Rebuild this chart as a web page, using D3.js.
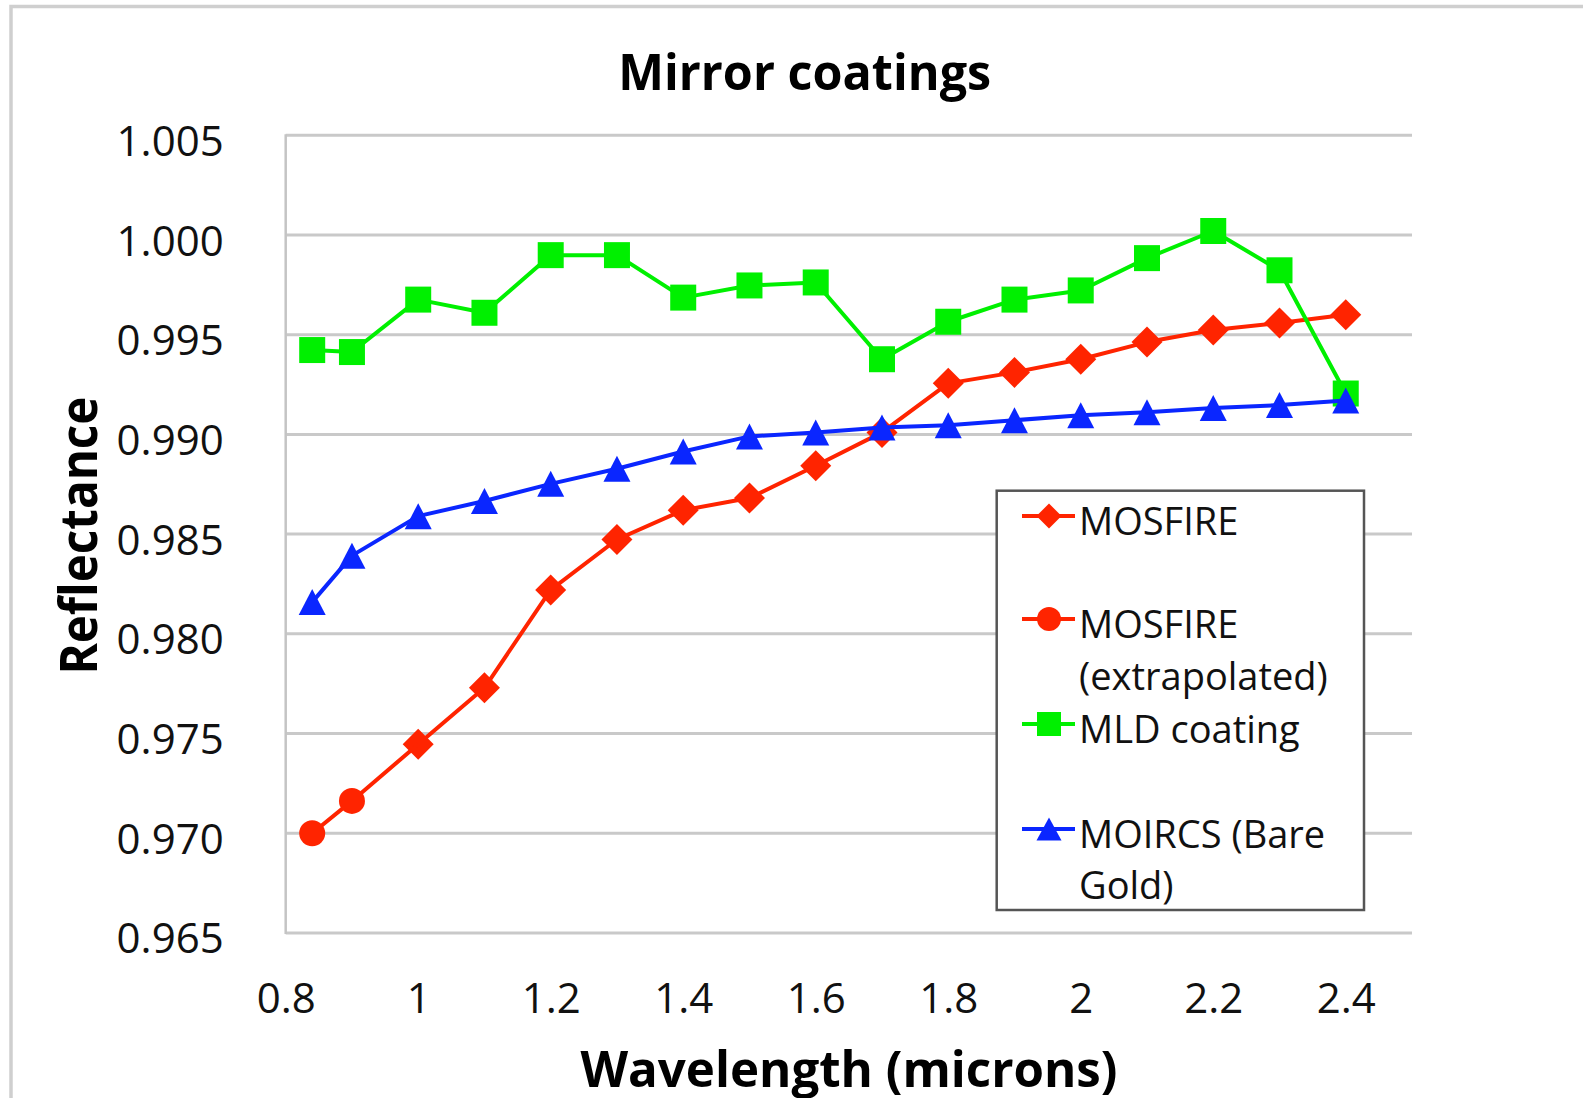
<!DOCTYPE html>
<html><head><meta charset="utf-8">
<script src="https://cdn.jsdelivr.net/npm/d3@7"></script>
<style>body{margin:0;background:#fff;overflow:hidden}svg{display:block}</style>
</head><body>
<svg id="c" width="1583" height="1098"></svg>
<script>
// ---- data ----
const wavelengths = [0.84,0.9,1.0,1.1,1.2,1.3,1.4,1.5,1.6,1.7,1.8,1.9,2.0,2.1,2.2,2.3,2.4];
const mosfireX = [1.0,1.1,1.2,1.3,1.4,1.5,1.6,1.7,1.8,1.9,2.0,2.1,2.2,2.3,2.4];
const mosfire = [0.97446,0.97729,0.98220,0.98473,0.98620,0.98681,0.98843,0.99010,0.99256,0.99311,0.99377,0.99463,0.99524,0.99559,0.99600];
const extrapX = [0.84,0.9];
const mosfireExtrap = [0.97000,0.97162];
const mld = [0.99423,0.99413,0.99676,0.99610,0.99899,0.99899,0.99686,0.99747,0.99762,0.99377,0.99565,0.99676,0.99722,0.99884,1.00020,0.99823,0.99205];
const moircs = [0.98159,0.98392,0.98590,0.98666,0.98752,0.98828,0.98914,0.98990,0.99010,0.99035,0.99046,0.99071,0.99096,0.99111,0.99132,0.99147,0.99170];
const yTicks = [0.965,0.970,0.975,0.980,0.985,0.990,0.995,1.000,1.005];
const xTicks = [0.8,1,1.2,1.4,1.6,1.8,2,2.2,2.4];
const legendLabels = [["MOSFIRE"],["MOSFIRE","(extrapolated)"],["MLD coating"],["MOIRCS (Bare","Gold)"]];
const title = "Mirror coatings";
const xTitle = "Wavelength (microns)";
const yTitle = "Reflectance";

// ---- styles ----
const RED = "#ff2400", GREEN = "#00f000", BLUE = "#0a26ff";
const FONT = "'Open Sans', 'DejaVu Sans', sans-serif";

const svg = d3.select("#c");
svg.append("rect").attr("width",1583).attr("height",1098).attr("fill","#fff");
// outer chart frame
svg.append("rect").attr("x",11).attr("y",6.5).attr("width",1700).attr("height",1200)
  .attr("fill","none").attr("stroke","#cfcfcf").attr("stroke-width",3.5);

const x = d3.scaleLinear().domain([0.8,2.5]).range([285.7,1412]);
const y = d3.scaleLinear().domain([0.965,1.005]).range([932.9,135.3]);

// gridlines
svg.append("g").selectAll("line").data(yTicks).join("line")
  .attr("x1",x(0.8)).attr("x2",x(2.5)).attr("y1",d=>y(d)).attr("y2",d=>y(d))
  .attr("stroke","#c9c9c9").attr("stroke-width",3);
// left axis line
svg.append("line").attr("x1",x(0.8)).attr("x2",x(0.8)).attr("y1",y(1.005)-1).attr("y2",y(0.965)+1)
  .attr("stroke","#c4c4c4").attr("stroke-width",2.5);

// axes
const ya = svg.append("g").attr("transform",`translate(${x(0.8)},0)`)
  .call(d3.axisLeft(y).tickValues(yTicks).tickFormat(d3.format(".3f")).tickSize(0).tickPadding(62));
ya.select(".domain").remove();
ya.selectAll("text").attr("dy","20").attr("font-family",FONT).attr("font-size",42).attr("fill","#111");

const xa = svg.append("g").attr("transform",`translate(0,${y(0.965)})`)
  .call(d3.axisBottom(x).tickValues(xTicks).tickFormat(d=>String(+d.toFixed(1))).tickSize(0));
xa.select(".domain").remove();
xa.selectAll("text").attr("y",80.4).attr("dy","0").attr("font-family",FONT).attr("font-size",42).attr("fill","#111");

// titles
svg.append("text").attr("x",804.7).attr("y",90).attr("text-anchor","middle")
  .attr("font-family",FONT).attr("font-weight","bold").attr("font-size",51)
  .attr("textLength",373).attr("lengthAdjust","spacingAndGlyphs").attr("fill","#000").text(title);
svg.append("text").attr("x",849).attr("y",1087).attr("text-anchor","middle")
  .attr("font-family",FONT).attr("font-weight","bold").attr("font-size",51)
  .attr("textLength",537).attr("lengthAdjust","spacingAndGlyphs").attr("fill","#000").text(xTitle);
svg.append("text").attr("transform","translate(97,535.6) rotate(-90)").attr("text-anchor","middle")
  .attr("font-family",FONT).attr("font-weight","bold").attr("font-size",52)
  .attr("textLength",278).attr("lengthAdjust","spacingAndGlyphs").attr("fill","#000").text(yTitle);

// marker shapes
const diamond = s => ({draw(ctx){ctx.moveTo(0,-s);ctx.lineTo(s,0);ctx.lineTo(0,s);ctx.lineTo(-s,0);ctx.closePath();}});
const square = s => ({draw(ctx){ctx.rect(-s,-s,2*s,2*s);}});
const circle = r => ({draw(ctx){ctx.moveTo(r,0);ctx.arc(0,0,r,0,2*Math.PI);}});
const tri = (w,h) => ({draw(ctx){ctx.moveTo(0,-h/2);ctx.lineTo(w/2,h/2);ctx.lineTo(-w/2,h/2);ctx.closePath();}});

const line = d3.line().x(d=>x(d[0])).y(d=>y(d[1]));
function series(pts, color, shape, linePts){
  const g = svg.append("g");
  g.append("path").attr("d",line(linePts||pts)).attr("fill","none").attr("stroke",color)
    .attr("stroke-width",4).attr("stroke-linejoin","round");
  g.selectAll("path.m").data(pts).join("path").attr("class","m")
    .attr("transform",d=>`translate(${x(d[0])},${y(d[1])})`)
    .attr("d",d3.symbol().type(shape)()).attr("fill",color);
}
const redPts = mosfireX.map((v,i)=>[v,mosfire[i]]);
const extPts = extrapX.map((v,i)=>[v,mosfireExtrap[i]]);
series(redPts, RED, diamond(15.5));
series(extPts, RED, circle(13), extPts.concat([redPts[0]]));
series(wavelengths.map((v,i)=>[v,mld[i]]), GREEN, square(13));
series(wavelengths.map((v,i)=>[v,moircs[i]]), BLUE, tri(27,26));

// legend
const lg = svg.append("g");
lg.append("rect").attr("x",996.7).attr("y",490.7).attr("width",367.3).attr("height",419.3)
  .attr("fill","#fff").attr("stroke","#555").attr("stroke-width",2.5);
const legendItems = [
  {color:RED, shape:diamond(12.5), base:[535]},
  {color:RED, shape:circle(12), base:[638,690]},
  {color:GREEN, shape:square(12), base:[743]},
  {color:BLUE, shape:tri(25,23), base:[848,899]}
];
legendItems.forEach((it,i)=>{
  const my = it.base[0]-19;
  lg.append("line").attr("x1",1022).attr("x2",1075).attr("y1",my).attr("y2",my)
    .attr("stroke",it.color).attr("stroke-width",4);
  lg.append("path").attr("transform",`translate(1049,${my})`).attr("d",d3.symbol().type(it.shape)()).attr("fill",it.color);
  legendLabels[i].forEach((t,j)=>{
    lg.append("text").attr("x",1079).attr("y",it.base[j]).attr("font-family",FONT)
      .attr("font-size",38).attr("fill","#111").text(t);
  });
});
</script>
</body></html>
